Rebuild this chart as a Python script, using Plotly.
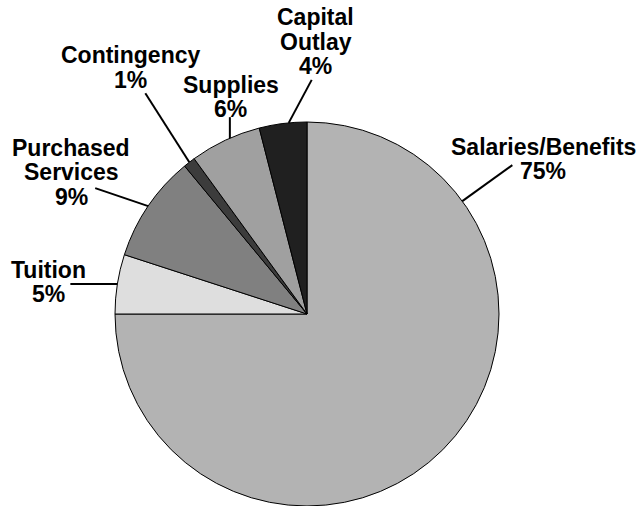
import math
import plotly.graph_objects as go

# ---- data ----
categories = ["Salaries/Benefits", "Tuition", "Purchased Services", "Contingency", "Supplies", "Capital Outlay"]
values = [75, 5, 9, 1, 6, 4]
label_lines = [
    ["Salaries/Benefits", "75%"],
    ["Tuition", "5%"],
    ["Purchased", "Services", "9%"],
    ["Contingency", "1%"],
    ["Supplies", "6%"],
    ["Capital", "Outlay", "4%"],
]
colors = ["#b3b3b3", "#dedede", "#808080", "#3c3c3c", "#a0a0a0", "#202020"]

# ---- layout / style ----
W, H = 643, 506
CX, CY, R = 307, 314, 192          # pie centre & radius in pixels (from top-left)
FONT = dict(family="Liberation Sans, Arial, Helvetica, sans-serif", size=23, color="black", weight="bold")
LINE_GAP = 24.5
# per slice: where along the slice the leader starts, leader end offset, text centre offset (px)
anchor_frac = [0.2, 0.5, 0.5, 0.5, 0.57, 0.62]
leader_off = [(50, -36), (-47, 0), (-53, -18), (-44, -69), (0, -21), (23, -43)]
text_off = [(81, -42), (-69, -2), (-77, -34), (-59, -95), (1, -41), (27, -81)]

def px2paper(x, y):
    return x / W, 1 - y / H

fig = go.Figure(go.Pie(
    labels=categories, values=values, sort=False, direction="clockwise", rotation=0,
    marker=dict(colors=colors, line=dict(color="black", width=1)),
    textinfo="none", hoverinfo="label+percent", showlegend=False,
    domain=dict(x=[(CX - R) / W, (CX + R) / W], y=[(H - CY - R) / H, (H - CY + R) / H]),
))

total = sum(values)
cum = 0.0
shapes, annots = [], []
for i, v in enumerate(values):
    frac = (cum + v * anchor_frac[i]) / total
    cum += v
    ang = 2 * math.pi * frac
    ax = CX + R * math.sin(ang)
    ay = CY - R * math.cos(ang)
    ex, ey = ax + leader_off[i][0], ay + leader_off[i][1]
    x0, y0 = px2paper(ax, ay)
    x1, y1 = px2paper(ex, ey)
    shapes.append(dict(type="line", xref="paper", yref="paper", x0=x0, y0=y0, x1=x1, y1=y1,
                       line=dict(color="black", width=2)))
    tx, ty = ax + text_off[i][0], ay + text_off[i][1]
    n = len(label_lines[i])
    for j, t in enumerate(label_lines[i]):
        ly = ty + (j - (n - 1) / 2) * LINE_GAP
        px, py = px2paper(tx, ly)
        annots.append(dict(x=px, y=py, xref="paper", yref="paper", text=t, showarrow=False,
                           xanchor="center", yanchor="middle", font=FONT))

fig.update_layout(
    width=W, height=H, margin=dict(l=0, r=0, t=0, b=0),
    paper_bgcolor="white", plot_bgcolor="white",
    shapes=shapes, annotations=annots,
)
fig.write_html("out.html", config={"displayModeBar": False},
               post_script="document.body.style.margin='0';document.body.style.overflow='hidden';")
